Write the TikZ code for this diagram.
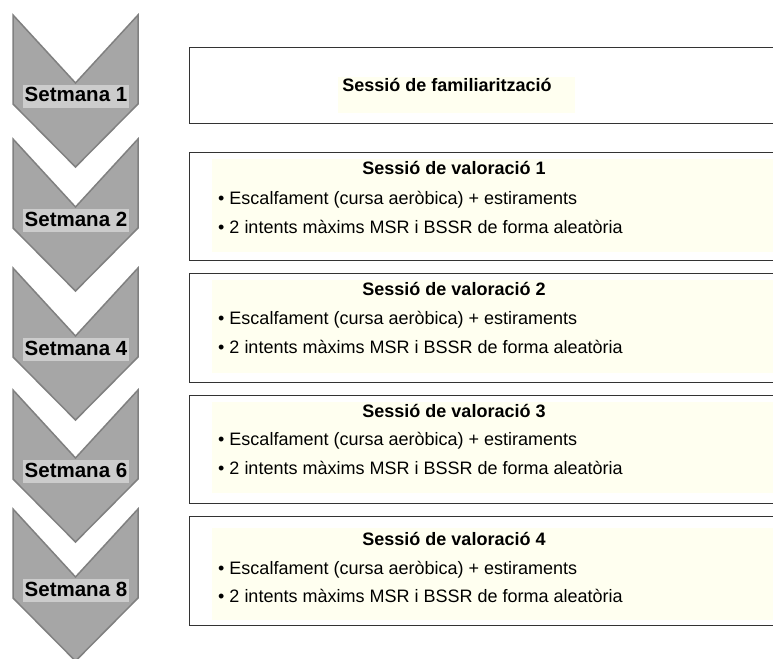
\documentclass[tikz,border=0pt]{standalone}
\usepackage{fontspec}
\setmainfont{Liberation Sans}
\usepackage{tikz}

\definecolor{chevfill}{RGB}{166,166,166}
\definecolor{chevline}{RGB}{128,128,128}
\definecolor{weekbg}{RGB}{204,204,204}
\definecolor{notebg}{RGB}{255,255,240}

\tikzset{
  chevron/.style={fill=chevfill, draw=chevline, line width=1.5pt, line join=miter},
  week/.style={fill=weekbg, inner sep=1.5pt, text height=15.5pt, text depth=4.5pt,
    font=\fontsize{20.5}{24}\selectfont\bfseries},
  session/.style={draw=black!80, line width=1.3pt, anchor=north west, inner sep=0pt,
    minimum width=620pt},
  heading/.style={anchor=base, inner sep=0pt, font=\fontsize{18}{22}\selectfont\bfseries},
  item/.style={anchor=base west, inner sep=0pt, font=\fontsize{18}{22}\selectfont}
}

\begin{document}
\begin{tikzpicture}[x=1pt, y=-1pt]
\useasboundingbox (0,0) rectangle (773,658);
\clip (0,0) rectangle (773,658);
\fill[white] (0,0) rectangle (773,658);

\foreach \t/\n in {15/1, 139/2, 268/4, 390/6, 509/8} {
  \draw[chevron] (13,\t) -- (75.5,\t+68) -- (138,\t) -- (138,\t+89)
    -- (75.5,\t+152) -- (13,\t+89) -- cycle;
  \node[week] (week\n) at (76,\t+81.5) {Setmana \n};
}

% sessions (they run off the right edge)
\node[session, minimum height=76pt] (s1) at (189,47) {};
\fill[notebg] (338,77) rectangle (575,113);
\node[heading] (h1) at (447,92) {Sessió de familiarització};

\node[session, minimum height=108pt] (s2) at (189,152) {};
\fill[notebg] (212,159) rectangle (780,252);
\node[heading] (h2) at (454,174) {Sessió de valoració 1};
\node[item] (a2) at (218,204) {• Escalfament (cursa aeròbica) + estiraments};
\node[item] (b2) at (218,233) {• 2 intents màxims MSR i BSSR de forma aleatòria};

\node[session, minimum height=109pt] (s3) at (189,273) {};
\fill[notebg] (212,280) rectangle (780,373);
\node[heading] (h3) at (454,295) {Sessió de valoració 2};
\node[item] (a3) at (218,324) {• Escalfament (cursa aeròbica) + estiraments};
\node[item] (b3) at (218,353) {• 2 intents màxims MSR i BSSR de forma aleatòria};

\node[session, minimum height=108pt] (s4) at (189,395) {};
\fill[notebg] (212,402) rectangle (780,493);
\node[heading] (h4) at (454,417) {Sessió de valoració 3};
\node[item] (a4) at (218,445) {• Escalfament (cursa aeròbica) + estiraments};
\node[item] (b4) at (218,474) {• 2 intents màxims MSR i BSSR de forma aleatòria};

\node[session, minimum height=109pt] (s5) at (189,516) {};
\fill[notebg] (212,528) rectangle (780,620);
\node[heading] (h5) at (454,545) {Sessió de valoració 4};
\node[item] (a5) at (218,574) {• Escalfament (cursa aeròbica) + estiraments};
\node[item] (b5) at (218,602) {• 2 intents màxims MSR i BSSR de forma aleatòria};

\end{tikzpicture}
\end{document}
